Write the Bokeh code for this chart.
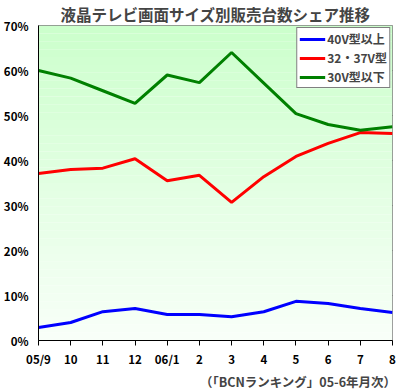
from bokeh.plotting import figure
from bokeh.models import Legend, LegendItem, FixedTicker, BoxAnnotation, Title, Range1d
from bokeh.embed import file_html
from bokeh.resources import INLINE

months = ["05/9", "10", "11", "12", "06/1", "2", "3", "4", "5", "6", "7", "8"]
s40 = [2.9, 4.0, 6.4, 7.1, 5.8, 5.8, 5.3, 6.4, 8.7, 8.2, 7.1, 6.2]
s32 = [37.1, 38.0, 38.3, 40.4, 35.5, 36.7, 30.7, 36.4, 40.9, 43.8, 46.2, 46.0]
s30 = [60.0, 58.3, 55.5, 52.7, 59.0, 57.3, 64.0, 57.2, 50.4, 48.0, 46.7, 47.5]
names = ["40V型以上", "32・37V型", "30V型以下"]
colors = ["#0000ff", "#ff0000", "#008000"]
yticks = [0, 10, 20, 30, 40, 50, 60, 70]

FONT = "Noto Sans CJK JP"
xs = list(range(len(months)))

p = figure(frame_width=354, frame_height=315, output_backend="svg", toolbar_location=None,
           x_range=Range1d(0, len(months) - 1), y_range=Range1d(0, 70),
           min_border_left=30, min_border_right=6, min_border_top=17, min_border_bottom=0)
p.title.text = "液晶テレビ画面サイズ別販売台数シェア推移"
p.title.text_font = FONT
p.title.text_font_size = "15.5px"
p.title.text_font_style = "bold"
p.title.align = "center"
p.title.offset = -10
p.title.standoff = 1

# gradient background
n = 40
top = (204, 255, 204)
bot = (248, 255, 248)
for i in range(n):
    t = i / (n - 1)
    c = tuple(int(round(bot[k] + (top[k] - bot[k]) * t)) for k in range(3))
    y0 = 70 * i / n
    y1 = 70 * (i + 1) / n
    p.add_layout(BoxAnnotation(bottom=y0, top=y1, fill_color="#%02x%02x%02x" % c,
                               fill_alpha=1, line_alpha=0, level="underlay"))

p.outline_line_color = "#808080"
p.background_fill_color = "#ffffff"

p.xgrid.visible = False
p.ygrid.grid_line_color = "black"
p.ygrid.grid_line_width = 1
p.ygrid.ticker = FixedTicker(ticks=yticks)
p.ygrid.level = "underlay"

p.yaxis.ticker = FixedTicker(ticks=yticks)
p.yaxis.major_label_overrides = {v: f"{v}%" for v in yticks}
p.yaxis.major_tick_line_color = None
p.yaxis.minor_tick_line_color = None
p.yaxis.axis_line_color = "black"
p.yaxis.major_label_standoff = 4

p.xaxis.ticker = FixedTicker(ticks=xs)
p.xaxis.major_label_overrides = {i: m for i, m in enumerate(months)}
p.xaxis.major_tick_in = 0
p.xaxis.major_tick_out = 5
p.xaxis.major_tick_line_color = "black"
p.xaxis.minor_tick_line_color = None
p.xaxis.axis_line_color = "black"
p.xaxis.major_label_standoff = 5

for ax in (p.xaxis, p.yaxis):
    ax.major_label_text_font = FONT
    ax.major_label_text_font_size = "11.5px"
    ax.major_label_text_font_style = "bold"
    ax.major_label_text_color = "black"

items = []
for name, ys, col in zip(names, [s40, s32, s30], colors):
    r = p.line(xs, ys, line_color=col, line_width=3)
    items.append(LegendItem(label=name, renderers=[r]))

leg = Legend(items=items, location="top_right")
leg.label_text_font = FONT
leg.label_text_font_size = "12px"
leg.label_text_font_style = "bold"
leg.border_line_color = "black"
leg.border_line_width = 1
leg.background_fill_color = "white"
leg.background_fill_alpha = 1
leg.glyph_width = 26
leg.glyph_height = 14
leg.label_height = 14
leg.spacing = 2
leg.padding = 2
leg.margin = 2
leg.label_standoff = 2
leg.label_text_line_height = 1.0
p.add_layout(leg)

foot = Title(text="（「BCNランキング」05-6年月次）", align="right",
             text_font=FONT, text_font_size="12.5px", text_font_style="bold",
             offset=-4, standoff=0)
p.add_layout(foot, "below")

open("out.html", "w").write(file_html(p, INLINE))
